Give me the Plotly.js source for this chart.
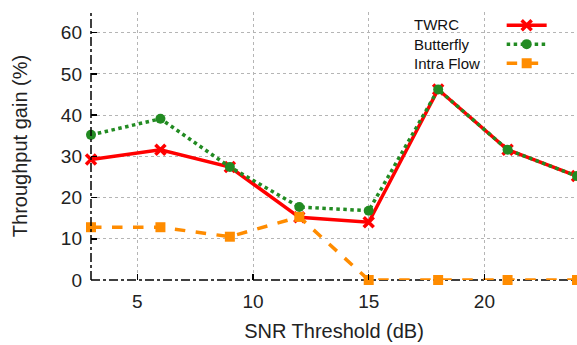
<!DOCTYPE html>
<html>
<head>
<meta charset="utf-8">
<script src="https://cdn.plot.ly/plotly-3.0.1.min.js"></script>
<style>html,body{margin:0;padding:0;background:#fff;}#chart{width:577px;height:345px;}</style>
</head>
<body>
<div id="chart"></div>
<script>
const snr = [3, 6, 9, 12, 15, 18, 21, 24];
const twrc = [29.2, 31.6, 27.4, 15.2, 14.0, 46.2, 31.6, 25.2];
const butterfly = [35.2, 39.1, 27.4, 17.7, 16.8, 46.2, 31.6, 25.2];
const intraFlow = [12.8, 12.8, 10.5, 15.3, 0, 0, 0, 0];
const seriesNames = ["TWRC", "Butterfly", "Intra Flow"];
const xTicks = [5, 10, 15, 20];
const yTicks = [0, 10, 20, 30, 40, 50, 60];

const FONT = "Liberation Sans, Arial, sans-serif";

const traces = [
  {x: snr, y: twrc, name: "", mode: "lines+markers",
   line: {color: "#ff0000", width: 3.5},
   marker: {symbol: "x-thin", size: 10, color: "#ff0000", line: {width: 3.5, color: "#ff0000"}}, cliponaxis: false},
  {x: snr, y: butterfly, name: "", mode: "lines+markers",
   line: {color: "#228b22", width: 3.5, dash: "dot"},
   marker: {symbol: "circle", size: 10, color: "#228b22"}, cliponaxis: false},
  {x: snr, y: intraFlow, name: "", mode: "lines+markers",
   line: {color: "#ff8c00", width: 3.5, dash: "dash"},
   marker: {symbol: "square", size: 10, color: "#ff8c00"}, cliponaxis: false}
];

const annotations = [{
  text: seriesNames.join("<br>"), xref: "paper", yref: "paper", x: 0.660, y: 0.879,
  xanchor: "left", yanchor: "middle", align: "left", showarrow: false,
  font: {family: FONT, size: 15, color: "#111111"}
}];

const layout = {
  width: 577, height: 345,
  margin: {l: 91, r: 0, t: 12, b: 65},
  paper_bgcolor: "#ffffff", plot_bgcolor: "#ffffff",
  font: {family: FONT, color: "#222222", size: 19},
  showlegend: true,
  legend: {x: 0.845, y: 1.005, xanchor: "left", yanchor: "top",
           bgcolor: "rgba(0,0,0,0)", font: {family: FONT, size: 10, color: "#111111"},
           tracegroupgap: 0, itemwidth: 40},
  annotations: annotations,
  xaxis: {range: [3, 24], tickvals: xTicks, ticks: "inside", ticklen: 6, tickwidth: 1.5, tickcolor: "#000",
          ticklabelstandoff: 8,
          showgrid: true, gridcolor: "#b5b5b5", griddash: "dot", gridwidth: 1,
          showline: false, zeroline: false,
          title: {text: "SNR Threshold (dB)", font: {family: FONT, size: 20, color: "#222"}, standoff: 12},
          tickfont: {family: FONT, size: 19, color: "#222"}},
  yaxis: {range: [0, 65], tickvals: yTicks, ticks: "inside", ticklen: 6, tickwidth: 1.5, tickcolor: "#000",
          ticklabelstandoff: 8,
          showgrid: true, gridcolor: "#b5b5b5", griddash: "dot", gridwidth: 1,
          showline: false, zeroline: false,
          title: {text: "Throughput gain (%)", font: {family: FONT, size: 20, color: "#222"}, standoff: 27},
          tickfont: {family: FONT, size: 19, color: "#222"}},
  shapes: [
    {type: "rect", xref: "paper", yref: "paper", x0: 0.646, x1: 0.975, y0: 0.765, y1: 1.0, layer: "between",
     fillcolor: "#ffffff", line: {width: 0}},
    {type: "line", xref: "paper", yref: "paper", x0: 0, x1: 0, y0: 0, y1: 1, layer: "above",
     line: {color: "#000", width: 1.5, dash: "dashdot"}},
    {type: "line", xref: "paper", yref: "paper", x0: 0, x1: 1, y0: 0, y1: 0, layer: "below",
     line: {color: "#000", width: 1.5, dash: "dashdot"}}
  ]
};

Plotly.newPlot("chart", traces, layout, {displayModeBar: false, staticPlot: true});
</script>
</body>
</html>
